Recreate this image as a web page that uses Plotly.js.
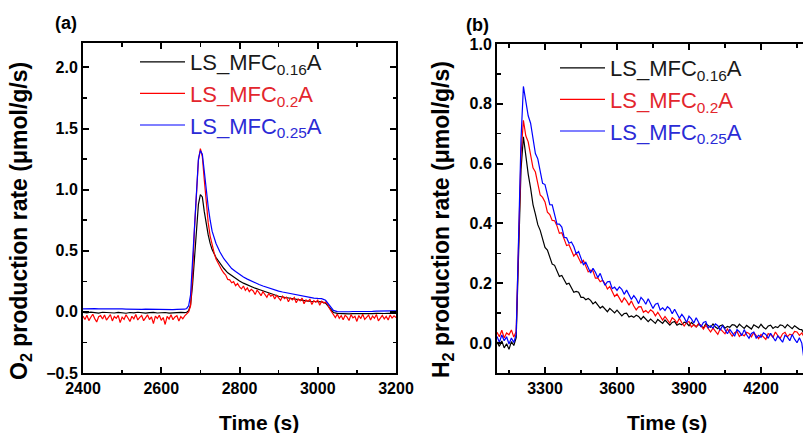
<!DOCTYPE html>
<html>
<head>
<meta charset="utf-8">
<script src="https://cdn.plot.ly/plotly-3.0.1.min.js"></script>
<style>html,body{margin:0;padding:0;background:#fff;}#chart{width:803px;height:433px;}</style>
</head>
<body>
<div id="chart"></div>
<script>
// ---------- Panel (a): O2 production rate ----------
const timeA = [
  2400,2410,2420,2430,2440,2450,2460,2470,2480,2490,2500,2510,2520,2530,2540,2550,2560,2570,2580,2590,2600,2610,2620,2630,2640,2650,2660,
  2665,2670,2675,2680,2685,2690,2695,2700,2705,2710,2715,2720,2725,2730,
  2740,2750,2760,2770,2780,2790,2800,2810,2820,2830,2840,2850,2860,2870,2880,2890,2900,2910,2920,2930,2940,2950,2960,2970,2980,2990,
  3000,3010,3020,3030,3040,3050,3060,3070,3080,3090,3100,3110,3120,3130,3140,3150,3160,3170,3180,3190,3200
];
const o2_016 = [
  -0.004,-0.008,-0.002,-0.006,-0.010,-0.003,-0.007,-0.005,-0.009,-0.004,-0.006,-0.011,-0.005,-0.008,-0.003,-0.007,-0.010,-0.006,-0.004,-0.009,-0.007,-0.005,-0.010,-0.006,-0.008,-0.004,-0.006,
  -0.003,0.010,0.060,0.220,0.460,0.700,0.880,0.960,0.940,0.820,0.720,0.630,0.560,0.510,
  0.445,0.395,0.355,0.320,0.295,0.272,0.252,0.235,0.220,0.207,0.194,0.183,0.172,0.160,0.148,0.138,0.128,0.122,0.116,0.110,0.104,0.099,0.094,0.090,0.087,0.085,
  0.083,0.082,0.072,0.030,-0.005,-0.012,-0.015,-0.013,-0.016,-0.014,-0.017,-0.015,-0.013,-0.016,-0.014,-0.012,-0.015,-0.013,-0.011,-0.014,-0.012
];
const o2_025 = [
  0.025,0.027,0.024,0.026,0.025,0.023,0.026,0.024,0.025,0.022,0.024,0.023,0.021,0.023,0.022,0.020,0.022,0.021,0.019,0.021,0.020,0.018,0.020,0.019,0.021,0.020,0.022,
  0.028,0.050,0.140,0.420,0.780,1.060,1.250,1.320,1.290,1.150,0.990,0.860,0.750,0.660,
  0.560,0.490,0.435,0.390,0.355,0.330,0.305,0.285,0.268,0.252,0.238,0.224,0.212,0.200,0.190,0.180,0.170,0.163,0.156,0.150,0.143,0.137,0.130,0.125,0.118,0.113,
  0.110,0.108,0.095,0.050,0.012,0.002,0.000,0.002,0.001,0.003,0.002,0.004,0.003,0.005,0.004,0.006,0.005,0.007,0.006,0.008,0.008
];
// the 0.2 sample is noisier, read at a finer time step
const timeA_02 = [
  2400,2405,2410,2415,2420,2425,2430,2435,2440,2445,2450,2455,2460,2465,2470,2475,2480,2485,2490,2495,
  2500,2505,2510,2515,2520,2525,2530,2535,2540,2545,2550,2555,2560,2565,2570,2575,2580,2585,2590,2595,
  2600,2605,2610,2615,2620,2625,2630,2635,2640,2645,2650,2655,2660,
  2665,2670,2675,2680,2685,2690,2695,2700,2705,2710,2715,2720,2725,2730,
  2735,2740,2745,2750,2755,2760,2765,2770,2775,2780,2785,2790,2795,2800,2805,2810,2815,2820,2825,2830,
  2835,2840,2845,2850,2855,2860,2865,2870,2875,2880,2885,2890,2895,2900,2905,2910,2915,2920,2925,2930,
  2935,2940,2945,2950,2955,2960,2965,2970,2975,2980,2985,2990,2995,3000,3005,3010,3015,3020,3025,3030,
  3035,3040,3045,3050,3055,3060,3065,3070,3075,3080,3085,3090,3095,3100,3105,3110,3115,3120,3125,3130,
  3135,3140,3145,3150,3155,3160,3165,3170,3175,3180,3185,3190,3195,3200
];
const o2_02 = [
  -0.035,-0.062,-0.028,-0.071,-0.044,-0.019,-0.055,-0.083,-0.040,-0.031,-0.058,-0.026,-0.067,-0.047,-0.022,-0.074,-0.038,-0.052,-0.029,-0.088,
  -0.043,-0.061,-0.024,-0.050,-0.078,-0.036,-0.057,-0.021,-0.066,-0.045,-0.030,-0.072,-0.049,-0.025,-0.063,-0.041,-0.096,-0.034,-0.054,-0.027,
  -0.069,-0.046,-0.103,-0.037,-0.058,-0.023,-0.064,-0.042,-0.031,-0.075,-0.039,-0.056,-0.033,
  -0.020,0.000,0.050,0.300,0.680,1.000,1.240,1.335,1.270,1.080,0.880,0.730,0.620,0.540,
  0.485,0.432,0.401,0.362,0.341,0.318,0.300,0.266,0.262,0.238,0.247,0.214,0.232,0.205,0.188,0.212,0.176,0.196,0.165,0.185,
  0.171,0.142,0.178,0.158,0.133,0.166,0.147,0.119,0.152,0.128,0.141,0.105,0.135,0.117,0.094,0.128,0.108,0.121,0.083,0.113,
  0.099,0.118,0.074,0.106,0.091,0.112,0.066,0.097,0.085,0.103,0.061,0.092,0.079,0.096,0.054,0.088,0.073,0.081,0.062,0.028,
  0.002,-0.024,-0.046,-0.018,-0.052,-0.031,-0.064,-0.027,-0.043,-0.071,-0.022,-0.049,-0.036,-0.078,-0.030,-0.055,-0.019,-0.061,-0.040,-0.026,
  -0.067,-0.034,-0.052,-0.021,-0.073,-0.045,-0.029,-0.058,-0.037,-0.066,-0.025,-0.051,-0.033,-0.047
];

// ---------- Panel (b): H2 production rate ----------
const timeB = [
  3100,3110,3120,3130,3140,3150,3160,3170,3180,3190,
  3200,3210,3220,3230,3240,3250,3260,3270,3280,3290,
  3300,3310,3320,3330,3340,3350,3360,3370,3380,3390,
  3400,3410,3420,3430,3440,3450,3460,3470,3480,3490,
  3500,3510,3520,3530,3540,3550,3560,3570,3580,3590,
  3600,3610,3620,3630,3640,3650,3660,3670,3680,3690,
  3700,3710,3720,3730,3740,3750,3760,3770,3780,3790,
  3800,3810,3820,3830,3840,3850,3860,3870,3880,3890,
  3900,3910,3920,3930,3940,3950,3960,3970,3980,3990,
  4000,4010,4020,4030,4040,4050,4060,4070,4080,4090,
  4100,4110,4120,4130,4140,4150,4160,4170,4180,4190,
  4200,4210,4220,4230,4240,4250,4260,4270,4280,4290,
  4300,4310,4320,4330,4340,4350,4360,4370,4380
];
const h2_016 = [
  0.004,-0.011,0.007,-0.016,-0.002,-0.021,0.005,-0.008,0.018,0.300,
  0.580,0.690,0.618,0.565,0.518,0.463,0.431,0.396,0.377,0.350,
  0.320,0.311,0.287,0.264,0.260,0.242,0.223,0.226,0.212,0.197,
  0.200,0.183,0.170,0.173,0.170,0.153,0.153,0.145,0.149,0.143,
  0.131,0.138,0.127,0.117,0.123,0.115,0.105,0.116,0.109,0.101,
  0.110,0.099,0.091,0.099,0.100,0.087,0.091,0.086,0.093,0.089,
  0.079,0.089,0.080,0.072,0.080,0.074,0.066,0.079,0.073,0.066,
  0.077,0.067,0.060,0.069,0.072,0.060,0.065,0.061,0.070,0.067,
  0.058,0.069,0.061,0.054,0.063,0.058,0.050,0.064,0.059,0.053,
  0.064,0.054,0.048,0.058,0.061,0.050,0.056,0.053,0.062,0.060,
  0.052,0.063,0.056,0.049,0.059,0.054,0.047,0.061,0.057,0.051,
  0.063,0.053,0.047,0.057,0.060,0.049,0.055,0.052,0.061,0.059,
  0.051,0.062,0.055,0.048,0.058,0.053,0.046,0.045,0.030
];
const h2_02 = [
  0.036,0.021,0.043,0.017,0.034,0.028,0.044,0.020,0.040,0.330,
  0.630,0.745,0.693,0.673,0.631,0.586,0.572,0.529,0.495,0.487,
  0.472,0.438,0.430,0.410,0.409,0.392,0.367,0.369,0.347,0.326,
  0.329,0.311,0.291,0.301,0.286,0.268,0.277,0.255,0.238,0.244,
  0.241,0.217,0.218,0.205,0.210,0.199,0.181,0.189,0.172,0.156,
  0.164,0.151,0.136,0.151,0.141,0.127,0.141,0.124,0.111,0.121,
  0.122,0.103,0.109,0.101,0.111,0.105,0.091,0.103,0.090,0.077,
  0.089,0.079,0.067,0.085,0.078,0.067,0.083,0.068,0.057,0.069,
  0.072,0.054,0.061,0.054,0.065,0.060,0.047,0.060,0.049,0.037,
  0.050,0.041,0.029,0.048,0.041,0.031,0.047,0.033,0.023,0.035,
  0.039,0.022,0.030,0.024,0.036,0.032,0.021,0.035,0.025,0.015,
  0.029,0.022,0.012,0.032,0.028,0.019,0.037,0.025,0.016,0.031,
  0.036,0.021,0.030,0.026,0.039,0.037,0.026,0.034,0.020
];
const h2_025 = [
  0.022,0.003,0.027,0.008,0.021,-0.003,0.017,0.002,0.030,0.360,
  0.680,0.858,0.813,0.760,0.735,0.683,0.634,0.616,0.576,0.534,
  0.530,0.498,0.463,0.462,0.427,0.398,0.398,0.388,0.354,0.352,
  0.334,0.338,0.323,0.299,0.306,0.283,0.262,0.270,0.254,0.234,
  0.250,0.237,0.219,0.233,0.211,0.193,0.205,0.206,0.182,0.187,
  0.176,0.188,0.180,0.163,0.177,0.161,0.146,0.159,0.148,0.132,
  0.153,0.144,0.130,0.148,0.130,0.116,0.130,0.133,0.111,0.118,
  0.109,0.122,0.115,0.098,0.113,0.098,0.083,0.096,0.085,0.069,
  0.090,0.081,0.067,0.085,0.068,0.054,0.069,0.072,0.051,0.058,
  0.050,0.064,0.058,0.043,0.059,0.045,0.031,0.046,0.036,0.023,
  0.045,0.038,0.025,0.045,0.028,0.016,0.032,0.037,0.017,0.026,
  0.019,0.034,0.029,0.016,0.033,0.020,0.007,0.024,0.015,0.003,
  0.026,0.020,0.008,0.029,0.013,0.001,0.018,0.000,-0.060
];

const seriesNames = ['LS_MFC<sub>0.16</sub>A', 'LS_MFC<sub>0.2</sub>A', 'LS_MFC<sub>0.25</sub>A'];
const lineColors = ['#000000', '#ff0000', '#0000ff'];
const textColors = ['#1a1a1a', '#e3262d', '#2b2bd6'];

const FONT = 'Liberation Sans, Arial, sans-serif';
const W = 803, H = 433;
const px = v => v / W;
const py = v => 1 - v / H;

const panelA = [[timeA, o2_016], [timeA_02, o2_02], [timeA, o2_025]];
const panelB = [[timeB, h2_016], [timeB, h2_02], [timeB, h2_025]];
const traces = [];
panelA.forEach((d, i) => traces.push({
  x: d[0], y: d[1], type: 'scatter', mode: 'lines', xaxis: 'x', yaxis: 'y',
  name: '<span style="color:' + textColors[i] + '">' + seriesNames[i] + '</span>',
  line: {color: lineColors[i], width: 1.2}, legend: 'legend'
}));
panelB.forEach((d, i) => traces.push({
  x: d[0], y: d[1], type: 'scatter', mode: 'lines', xaxis: 'x2', yaxis: 'y2',
  name: '<span style="color:' + textColors[i] + '">' + seriesNames[i] + '</span>',
  line: {color: lineColors[i], width: 1.2}, legend: 'legend2'
}));

const tickFont = {family: FONT, size: 16, color: '#000', weight: 'bold'};
function axisBase(extra) {
  return Object.assign({
    showline: true, linewidth: 2, linecolor: '#000', mirror: 'allticks',
    ticks: 'inside', ticklen: 6, tickwidth: 2, tickcolor: '#000',
    showgrid: false, zeroline: false, tickfont: tickFont, fixedrange: true
  }, extra);
}
const minorTick = d => ({dtick: d, ticks: 'inside', ticklen: 3.5, tickwidth: 1.5, tickcolor: '#000'});

const yTitleFont = {family: FONT, size: 23, color: '#000', weight: 'bold'};
const xTitleFont = {family: FONT, size: 21, color: '#000', weight: 'bold'};
const legendBase = {
  xanchor: 'left', yanchor: 'top', bgcolor: 'rgba(0,0,0,0)', borderwidth: 0,
  font: {family: FONT, size: 22, color: '#000'}, tracegroupgap: 0, itemwidth: 45
};

const layout = {
  width: W, height: H, paper_bgcolor: '#fff', plot_bgcolor: '#fff',
  margin: {l: 0, r: 0, t: 0, b: 0},
  xaxis: axisBase({domain: [px(83), px(396)], range: [2400, 3200], tick0: 2400, dtick: 200,
    minor: minorTick(100), anchor: 'y'}),
  yaxis: axisBase({domain: [py(373), py(43)], range: [-0.5, 2.2], tick0: 0, dtick: 0.5, tickformat: '.1f',
    minor: minorTick(0.25), anchor: 'x'}),
  xaxis2: axisBase({domain: [px(497), 1], range: [3100, 4375], tick0: 3300, dtick: 300,
    minor: minorTick(150), anchor: 'y2'}),
  yaxis2: axisBase({domain: [py(373), py(44)], range: [-0.1, 1.0], tick0: 0, dtick: 0.2, tickformat: '.1f',
    mirror: false, minor: minorTick(0.1), anchor: 'x2'}),
  legend: Object.assign({}, legendBase, {x: px(135), y: py(41)}),
  legend2: Object.assign({}, legendBase, {x: px(555), y: py(47)}),
  showlegend: true,
  annotations: [
    {text: '(a)', x: px(66), y: py(23), xref: 'paper', yref: 'paper', showarrow: false,
      xanchor: 'center', yanchor: 'middle', font: {family: FONT, size: 18, color: '#000', weight: 'bold'}},
    {text: '(b)', x: px(477), y: py(25), xref: 'paper', yref: 'paper', showarrow: false,
      xanchor: 'center', yanchor: 'middle', font: {family: FONT, size: 18, color: '#000', weight: 'bold'}},
    {text: 'O<sub>2</sub> production rate (μmol/g/s)', x: px(20), y: py(221), xref: 'paper', yref: 'paper',
      showarrow: false, textangle: -90, xanchor: 'center', yanchor: 'middle', font: yTitleFont},
    {text: 'H<sub>2</sub> production rate (μmol/g/s)', x: px(442), y: py(220), xref: 'paper', yref: 'paper',
      showarrow: false, textangle: -90, xanchor: 'center', yanchor: 'middle', font: yTitleFont},
    {text: 'Time (s)', x: px(259), y: py(422), xref: 'paper', yref: 'paper', showarrow: false,
      xanchor: 'center', yanchor: 'middle', font: xTitleFont},
    {text: 'Time (s)', x: px(667), y: py(422), xref: 'paper', yref: 'paper', showarrow: false,
      xanchor: 'center', yanchor: 'middle', font: xTitleFont}
  ]
};

Plotly.newPlot('chart', traces, layout, {staticPlot: true, displayModeBar: false});
</script>
</body>
</html>
